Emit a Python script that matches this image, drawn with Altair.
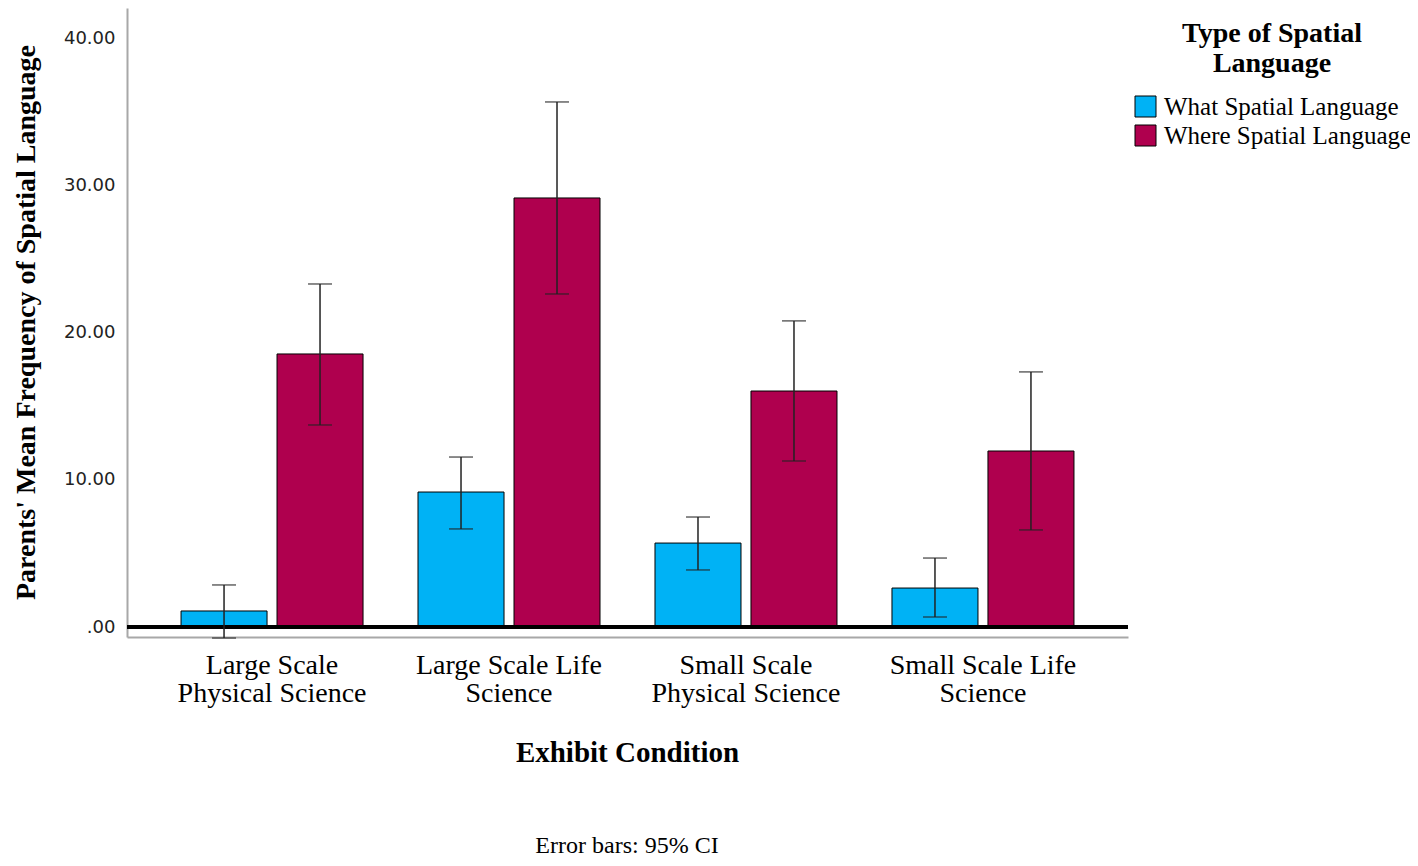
import altair as alt
import pandas as pd

conditions = ["Large Scale|Physical Science", "Large Scale Life|Science",
              "Small Scale|Physical Science", "Small Scale Life|Science"]
types = ["What Spatial Language", "Where Spatial Language"]
what_mean = [1.09, 9.18, 5.71, 2.65]
what_lo = [-0.75, 6.67, 3.88, 0.68]
what_hi = [2.86, 11.56, 7.48, 4.69]
where_mean = [18.57, 29.18, 16.05, 11.97]
where_lo = [13.74, 22.65, 11.29, 6.60]
where_hi = [23.33, 35.71, 20.82, 17.35]
colors = ["#00B2F5", "#AF004E"]

rows = []
for i, c in enumerate(conditions):
    rows.append({"cond": c, "type": types[0], "mean": what_mean[i], "lo": what_lo[i], "hi": what_hi[i]})
    rows.append({"cond": c, "type": types[1], "mean": where_mean[i], "lo": where_lo[i], "hi": where_hi[i]})
df = pd.DataFrame(rows)

SERIF = "Liberation Serif"

x = alt.X("cond:N", sort=conditions,
          scale=alt.Scale(paddingInner=0.232, paddingOuter=0.228),
          axis=alt.Axis(title="Exhibit Condition", labelExpr="split(datum.label, '|')",
                        labelAngle=0, labelFont=SERIF, labelFontSize=28, labelLineHeight=28,
                        labelColor="black", labelPadding=14, labelLimit=0, ticks=False,
                        domainColor="#a8a8a8", domainWidth=2,
                        titleFont=SERIF, titleFontSize=29, titleFontWeight="bold",
                        titleColor="black", titleX=500, titleY=115, titleBaseline="middle"))
xo = alt.XOffset("type:N", sort=types, scale=alt.Scale(paddingInner=0.104, paddingOuter=0))
yscale = alt.Scale(domain=[-0.68, 42.1], nice=False, zero=False)
y_axis = alt.Axis(title="Parents' Mean Frequency of Spatial Language",
                  values=[0, 10, 20, 30, 40],
                  labelExpr="datum.value == 0 ? '.00' : format(datum.value, '.2f')",
                  labelFont="DejaVu Sans", labelFontSize=18, labelColor="#222",
                  labelPadding=12, ticks=False, grid=False,
                  domainColor="#a8a8a8", domainWidth=2,
                  titleFont=SERIF, titleFontSize=28, titleFontWeight="bold", titleColor="black",
                  titleAngle=-90, titleX=-87, titleY=314, titleBaseline="bottom", titleAlign="center")

base = alt.Chart(df)

bars = base.mark_bar(stroke="black", strokeWidth=1).encode(
    x=x, xOffset=xo,
    y=alt.Y("mean:Q", scale=yscale, axis=y_axis, stack=None),
    y2=alt.datum(0),
    color=alt.Color("type:N", sort=types,
                    scale=alt.Scale(domain=types, range=colors),
                    legend=alt.Legend(title=["Type of Spatial", "Language"],
                                      orient="none", legendX=1006, legendY=12,
                                      titleFont=SERIF, titleFontSize=28, titleFontWeight="bold",
                                      titleColor="black", titleLineHeight=30,
                                      titleAnchor="middle", titleAlign="center", titlePadding=16,
                                      labelFont=SERIF, labelFontSize=25, labelColor="black",
                                      labelLimit=0,
                                      labelOffset=6, symbolType="square", symbolSize=441,
                                      symbolStrokeColor="black", symbolStrokeWidth=1,
                                      symbolOpacity=1, rowPadding=3)),
)

err = base.mark_rule(color="#222", strokeWidth=1.5).encode(
    x=x, xOffset=xo, y=alt.Y("lo:Q", scale=yscale), y2="hi:Q")
cap_lo = base.mark_tick(color="#222", size=24, thickness=1.5).encode(
    x=x, xOffset=xo, y=alt.Y("lo:Q", scale=yscale))
cap_hi = base.mark_tick(color="#222", size=24, thickness=1.5).encode(
    x=x, xOffset=xo, y=alt.Y("hi:Q", scale=yscale))

zero = alt.Chart(pd.DataFrame({"mean": [0]})).mark_rule(color="black", strokeWidth=4).encode(
    y=alt.Y("mean:Q", scale=yscale))

footer = alt.Chart(pd.DataFrame({"t": ["Error bars: 95% CI"]})).mark_text(
    font=SERIF, fontSize=24, color="black", align="center", baseline="middle").encode(
    x=alt.value(500), y=alt.value(838), text="t:N")

chart = alt.layer(bars, zero, err, cap_lo, cap_hi, footer).properties(
    width=1001, height=629,
    autosize=alt.AutoSizeParams(type="none"),
    padding={"left": 119, "top": 0, "right": 282, "bottom": 221},
).configure(background="white").configure_view(strokeWidth=0)

chart.save("out.html", embed_options={"renderer": "svg", "actions": False})
